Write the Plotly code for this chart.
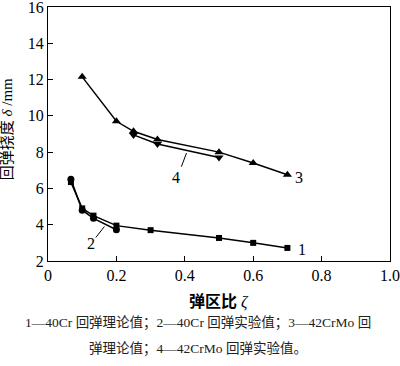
import plotly.graph_objects as go

x1 = [0.067, 0.1, 0.133, 0.2, 0.3, 0.5, 0.6, 0.7]
y1 = [6.35, 4.9, 4.5, 3.95, 3.7, 3.27, 3.0, 2.72]
x2 = [0.067, 0.1, 0.133, 0.2]
y2 = [6.5, 4.8, 4.35, 3.72]
x3 = [0.1, 0.2, 0.25, 0.32, 0.5, 0.6, 0.7]
y3 = [12.15, 9.7, 9.15, 8.7, 8.0, 7.4, 6.75]
x4 = [0.25, 0.32, 0.5]
y4 = [8.95, 8.45, 7.7]

xticks = [0, 0.2, 0.4, 0.6, 0.8, 1.0]
xtick_text = ["0", "0.2", "0.4", "0.6", "0.8", "1.0"]
yticks = [2, 4, 6, 8, 10, 12, 14, 16]

serif = "Liberation Serif, Times New Roman, serif"
mixed = "Liberation Serif, Noto Sans CJK SC, serif"

fig = go.Figure()
line = dict(color="black", width=1.5)
fig.add_trace(go.Scatter(x=x1, y=y1, mode="lines+markers", line=line, cliponaxis=False,
                         marker=dict(symbol="square", size=6, color="black")))
fig.add_trace(go.Scatter(x=x2, y=y2, mode="lines+markers", line=line, cliponaxis=False,
                         marker=dict(symbol="circle", size=7, color="black")))
fig.add_trace(go.Scatter(x=x3, y=y3, mode="lines+markers", line=line, cliponaxis=False,
                         marker=dict(symbol="triangle-up", size=8, color="black")))
fig.add_trace(go.Scatter(x=x4, y=y4, mode="lines+markers", line=line, cliponaxis=False,
                         marker=dict(symbol="triangle-down", size=8, color="black")))

# leader lines
fig.add_shape(type="line", x0=0.405, y0=7.95, x1=0.39, y1=7.2,
              line=dict(color="black", width=1))
fig.add_shape(type="line", x0=0.165, y0=3.9, x1=0.14, y1=3.3,
              line=dict(color="black", width=1))

labels = [(0.375, 6.6, "4"), (0.735, 6.6, "3"), (0.742, 2.65, "1"), (0.125, 2.95, "2")]
for lx, ly, t in labels:
    fig.add_annotation(x=lx, y=ly, text=t, showarrow=False,
                       font=dict(family=serif, size=16, color="black"))

fig.add_annotation(xref="paper", yref="paper", x=0.5, y=-0.161, text="<b>弹区比</b> <i>ζ</i>",
                   xanchor="center", yanchor="middle",
                   showarrow=False, font=dict(family=mixed, size=16, color="black"))
fig.add_annotation(xref="paper", yref="paper", x=-0.119, y=0.52, text="回弹挠度 <i>δ</i> /mm",
                   xanchor="center", yanchor="middle",
                   textangle=-90, showarrow=False, font=dict(family=mixed, size=15, color="black"))
fig.add_annotation(xref="paper", yref="paper", x=0.44, y=-0.244,
                   xanchor="center", yanchor="middle",
                   text="1—40Cr 回弹理论值；2—40Cr 回弹实验值；3—42CrMo 回",
                   showarrow=False, font=dict(family=mixed, size=13.5, color="#222"))
fig.add_annotation(xref="paper", yref="paper", x=0.44, y=-0.346,
                   xanchor="center", yanchor="middle",
                   text="弹理论值；4—42CrMo 回弹实验值。",
                   showarrow=False, font=dict(family=mixed, size=13.5, color="#222"))

fig.update_layout(
    width=400, height=366,
    margin=dict(l=48, r=10, t=7, b=105, autoexpand=False),
    showlegend=False,
    plot_bgcolor="white", paper_bgcolor="white",
    font=dict(family=serif, size=15, color="black"),
)
fig.update_xaxes(range=[0, 1.0], tickvals=xticks, ticktext=xtick_text, automargin=False,
                 showgrid=False, zeroline=False, showline=True, linecolor="#000000",
                 linewidth=1.3, mirror=True, ticks="inside", ticklen=5,
                 ticklabeloverflow="allow",
                 tickcolor="#000000", tickfont=dict(family=serif, size=16))
fig.update_yaxes(range=[2, 16], tickvals=yticks, automargin=False,
                 showgrid=False, zeroline=False, showline=True, linecolor="#000000",
                 linewidth=1.3, mirror=True, ticks="inside", ticklen=5,
                 ticklabeloverflow="allow",
                 tickcolor="#000000", tickfont=dict(family=serif, size=16))

fig.write_html("out.html", config={"displayModeBar": False},
               post_script="document.body.style.margin='0';")
